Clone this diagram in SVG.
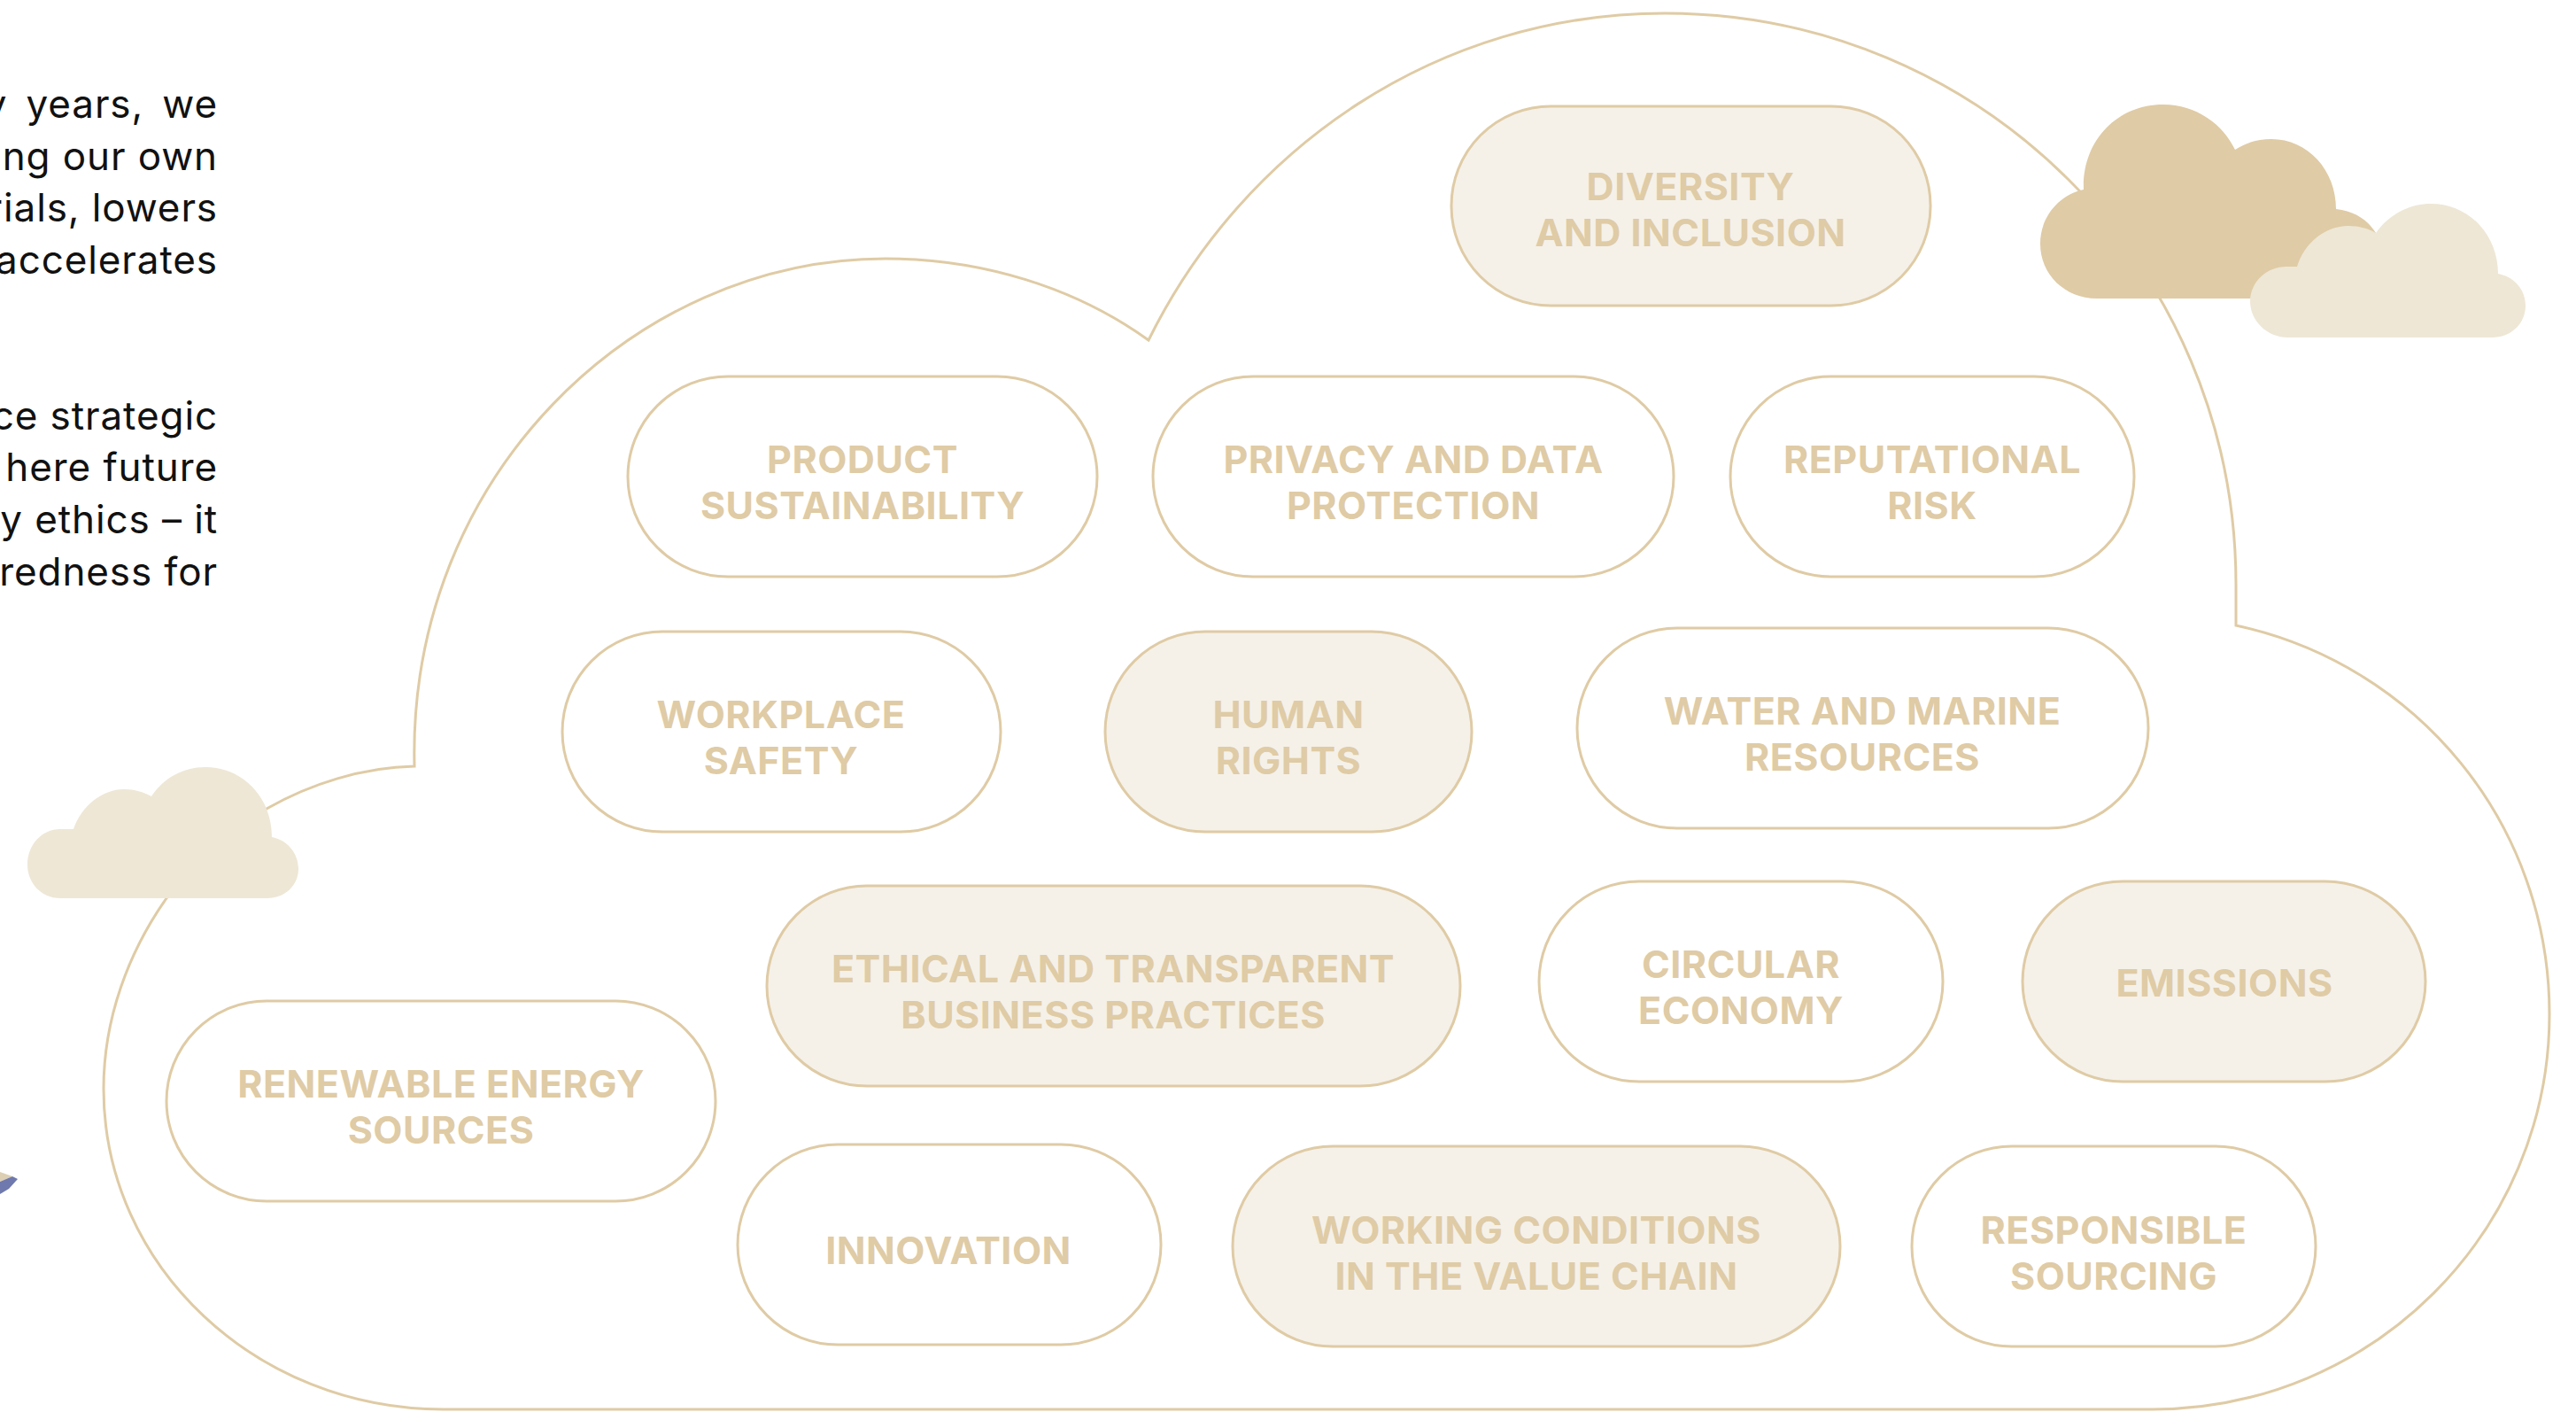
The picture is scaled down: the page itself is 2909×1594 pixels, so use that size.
<svg xmlns="http://www.w3.org/2000/svg" width="2909" height="1594" viewBox="0 0 2909 1594">
<style>
.pill{fill:#fff;stroke:#dfcba5;stroke-width:3}
.fill{fill:#f5f1e9}
.lbl{font-family:"Inter","Liberation Sans",sans-serif;font-weight:700;font-size:43px;letter-spacing:.5px;fill:#dfcba5;text-anchor:middle}
.body{font-family:"Inter","Liberation Sans",sans-serif;font-size:44px;letter-spacing:.9px;fill:#111;text-anchor:end}
</style>
<rect width="2909" height="1594" fill="#fff"/>
<g id="body-text">
<text class="body" x="246" y="133" word-spacing="8">y years, we</text>
<text class="body" x="246" y="192">ng our own</text>
<text class="body" x="246" y="250">rials, lowers</text>
<text class="body" x="246" y="309">accelerates</text>
<text class="body" x="246" y="485">ce strategic</text>
<text class="body" x="246" y="543">here future</text>
<text class="body" x="246" y="602">y ethics – it</text>
<text class="body" x="246" y="661">redness for</text>
</g>
<g id="photo-fragment"><path fill="#dccfb4" d="M0 1323L14 1328L0 1334Z"/><path fill="#6f79ad" d="M0 1334L14 1328L20 1331L10 1342L0 1348Z"/></g>
<g id="connectors">
<path id="outline" fill="#fff" stroke="#dfcba5" stroke-width="3" stroke-linejoin="miter" d="M468 865C460 540 715 292 1000 292C1110 292 1215 325 1297 384C1405 165 1625 15 1880 15C2235 15 2525 300 2525 660L2525 706C2730 750 2879 930 2879 1145C2879 1390 2680 1591 2430 1591H500C290 1591 117 1430 117 1229C117 1150 145 1075 188 1014L301 913C350 885 410 866 468 865Z"/>
</g>
<g id="cloud-dark"><path fill="#dfcba5" d="M2368 337C2332 337 2304 310 2304 275C2304 245 2325 220 2353 214C2351 160 2390 118 2443 118C2480 118 2510 140 2524 169C2536 161 2550 157 2565 157C2606 157 2638 192 2638 236C2660 238 2675 250 2683 263L2700 337Z"/></g>
<g id="cloud-light"><path fill="#eee7d6" d="M2584 381C2560 381 2541 362 2541 340C2541 318 2560 301 2582 301H2594C2602 275 2625 255 2652 255C2664 255 2675 258 2683 263C2697 243 2720 230 2745 230C2788 230 2821 265 2821 309C2838 312 2852 326 2852 345C2852 365 2836 381 2814 381Z"/></g>
<g id="cloud-small"><path fill="#eee7d6" d="M68 1014C47 1014 31 997 31 976C31 954 47 936 68 936H83C92 910 115 891 140 891C152 891 162 894 171 899C185 878 207 866 232 866C274 866 307 900 307 945C324 948 337 963 337 981C337 1000 321 1014 302 1014Z"/></g>
<g id="n1"><rect class="pill fill" x="1639" y="120" width="541" height="225" rx="112"/><text class="lbl" x="1909" y="226">DIVERSITY</text><text class="lbl" x="1909" y="278">AND INCLUSION</text></g>
<g id="n2"><rect class="pill" x="709" y="425" width="530" height="226" rx="113"/><text class="lbl" x="974" y="534">PRODUCT</text><text class="lbl" x="974" y="586">SUSTAINABILITY</text></g>
<g id="n3"><rect class="pill" x="1302" y="425" width="588" height="226" rx="113"/><text class="lbl" x="1596" y="534">PRIVACY AND DATA</text><text class="lbl" x="1596" y="586">PROTECTION</text></g>
<g id="n4"><rect class="pill" x="1954" y="425" width="456" height="226" rx="113"/><text class="lbl" x="2182" y="534">REPUTATIONAL</text><text class="lbl" x="2182" y="586">RISK</text></g>
<g id="n5"><rect class="pill" x="635" y="713" width="495" height="226" rx="113"/><text class="lbl" x="882" y="822">WORKPLACE</text><text class="lbl" x="882" y="874">SAFETY</text></g>
<g id="n6"><rect class="pill fill" x="1248" y="713" width="414" height="226" rx="113"/><text class="lbl" x="1455" y="822">HUMAN</text><text class="lbl" x="1455" y="874">RIGHTS</text></g>
<g id="n7"><rect class="pill" x="1781" y="709" width="645" height="226" rx="113"/><text class="lbl" x="2103" y="818">WATER AND MARINE</text><text class="lbl" x="2103" y="870">RESOURCES</text></g>
<g id="n8"><rect class="pill fill" x="866" y="1000" width="783" height="226" rx="113"/><text class="lbl" x="1257" y="1109">ETHICAL AND TRANSPARENT</text><text class="lbl" x="1257" y="1161">BUSINESS PRACTICES</text></g>
<g id="n9"><rect class="pill" x="1738" y="995" width="456" height="226" rx="113"/><text class="lbl" x="1966" y="1104">CIRCULAR</text><text class="lbl" x="1966" y="1156">ECONOMY</text></g>
<g id="n10"><rect class="pill fill" x="2284" y="995" width="455" height="226" rx="113"/><text class="lbl" x="2512" y="1125">EMISSIONS</text></g>
<g id="n11"><rect class="pill" x="188" y="1130" width="620" height="226" rx="113"/><text class="lbl" x="498" y="1239">RENEWABLE ENERGY</text><text class="lbl" x="498" y="1291">SOURCES</text></g>
<g id="n12"><rect class="pill" x="833" y="1292" width="478" height="226" rx="113"/><text class="lbl" x="1071" y="1427">INNOVATION</text></g>
<g id="n13"><rect class="pill fill" x="1392" y="1294" width="686" height="226" rx="113"/><text class="lbl" x="1735" y="1404">WORKING CONDITIONS</text><text class="lbl" x="1735" y="1456">IN THE VALUE CHAIN</text></g>
<g id="n14"><rect class="pill" x="2159" y="1294" width="456" height="226" rx="113"/><text class="lbl" x="2387" y="1404">RESPONSIBLE</text><text class="lbl" x="2387" y="1456">SOURCING</text></g>
</svg>
